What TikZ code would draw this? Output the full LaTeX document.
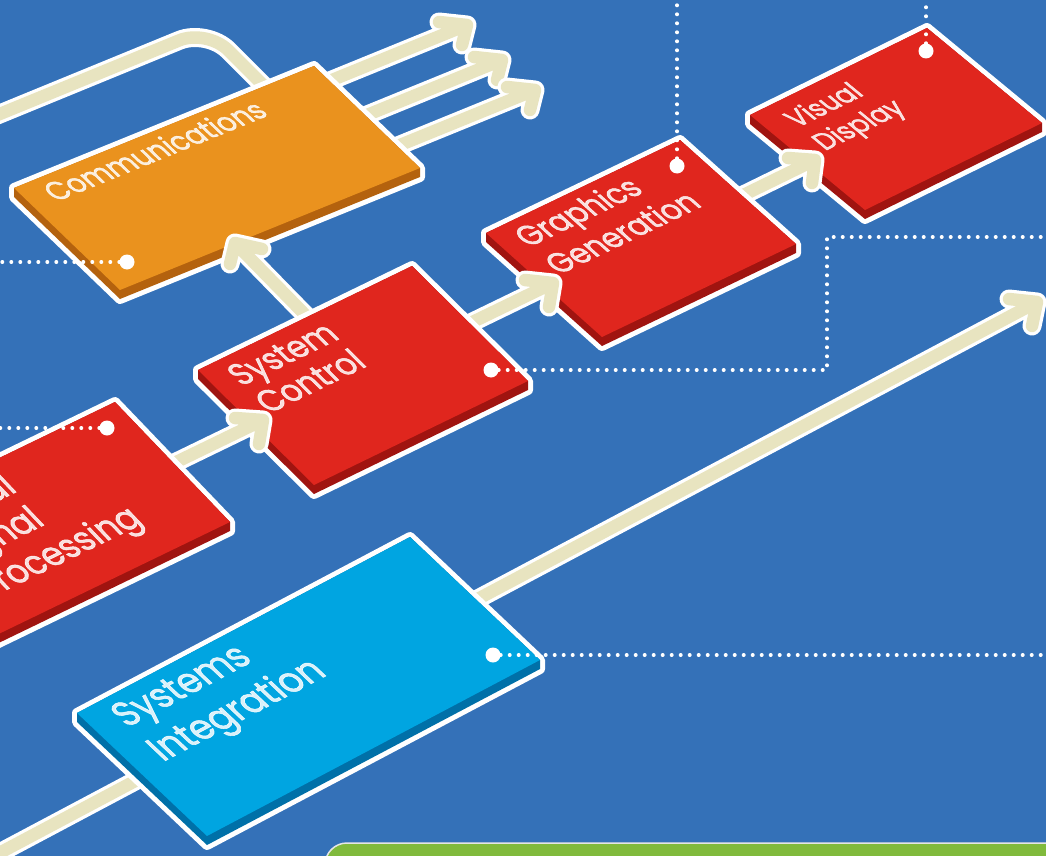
\documentclass[tikz,border=0pt]{standalone}
\usepackage{fontspec}
\setmainfont{Poppins}[FakeBold=1.6]
\usetikzlibrary{calc}
\definecolor{bgblue}{RGB}{52,113,184}
\definecolor{slabred}{RGB}{224,38,30}
\definecolor{slabreddark}{RGB}{160,20,16}
\definecolor{slaborange}{RGB}{234,146,30}
\definecolor{slaborangedark}{RGB}{180,98,14}
\definecolor{slabcyan}{RGB}{0,165,225}
\definecolor{slabcyandark}{RGB}{0,112,168}
\definecolor{tubecream}{RGB}{232,228,192}
\definecolor{boxgreen}{RGB}{128,186,60}

\newcommand\slab[5]{%
  \begin{scope}[shift={#1},x={#2},y={#3}]
    \filldraw[slabhalo] (0,0) -- (1,0) -- (1,1) -- ([yshift=-9pt]1,1) -- ([yshift=-9pt]0,1) -- ([yshift=-9pt]0,0) -- cycle;
    \fill[#5] (0,0) -- (1,0) -- (1,1) -- ([yshift=-9pt]1,1) -- ([yshift=-9pt]0,1) -- ([yshift=-9pt]0,0) -- cycle;
    \fill[#4] (0,0) -- (1,0) -- (1,1) -- (0,1) -- cycle;
  \end{scope}}
\newcommand\tube[4]{%
  \draw[tubeout] (#1) -- (#2) -- ++#3 (#2) -- ++#4;
  \draw[tubein] (#1) -- (#2) -- ++#3 (#2) -- ++#4;}

\begin{document}
\begin{tikzpicture}[x=1pt,y=-1pt,
  slabhalo/.style={draw=white,line width=10pt,line join=round},
  tubeout/.style={white,line width=19pt,line cap=round,line join=round},
  tubein/.style={tubecream,line width=12.5pt,line cap=round,line join=round},
  label/.style={text=white,text opacity=.85,align=left,anchor=base west,inner sep=0pt},
  dots/.style={white,line width=4pt,line cap=round,dash pattern=on 0pt off 9pt},
  pin/.style={circle,fill=white,inner sep=0pt,minimum size=15pt}]
\useasboundingbox (0,0) rectangle (1046,856);
\clip (0,0) rectangle (1046,856);
\fill[bgblue] (0,0) rectangle (1046,856);

\coordinate (link-a) at (-10,118);
\coordinate (link-b) at (207,29);
\coordinate (link-c) at (290,112);
\draw[tubeout,rounded corners=30pt] (link-a) -- (link-b) -- (link-c);
\draw[tubein,rounded corners=30pt] (link-a) -- (link-b) -- (link-c);

\coordinate (comm-o1) at (310,89);
\coordinate (comm-o2) at (345,124);
\coordinate (comm-o3) at (378,154);
\coordinate (out-1) at (467,25);
\coordinate (out-2) at (502,60);
\coordinate (out-3) at (535,90);
\tube{comm-o1}{out-1}{(-28,-3)}{(-5,20)}
\tube{comm-o2}{out-2}{(-28,-3)}{(-5,20)}
\tube{comm-o3}{out-3}{(-28,-3)}{(-5,20)}

\slab{(14,188)}{(300pt,122pt)}{(106pt,-102pt)}{slaborange}{slaborangedark}
\node[label,font=\fontsize{26.5}{32}\selectfont,cm={0.926,0.377,-0.851,0.818,(0,0)}] (comm) at (56,202) {Communications};

\coordinate (ctrl-up) at (320,330);
\coordinate (comm-in) at (235,243);
\tube{ctrl-up}{comm-in}{(27,6)}{(-5,21)}

\slab{(750,115)}{(177pt,87pt)}{(115pt,-95pt)}{slabred}{slabreddark}
\node[label,font=\fontsize{25}{30.5}\selectfont,cm={0.898,0.441,-0.910,0.752,(0,0)}] (vis) at (825,151) {Visual\\Display};

\coordinate (gfx-out) at (725,204);
\coordinate (vis-in) at (815,160);
\tube{gfx-out}{vis-in}{(-27,-2)}{(-3,23)}

\slab{(486,233)}{(194pt,93pt)}{(116pt,-104pt)}{slabred}{slabreddark}
\node[label,font=\fontsize{28.5}{34.7}\selectfont,cm={0.902,0.432,-0.879,0.788,(0,0)}] (gfx) at (559,275) {Graphics\\Generation};

\coordinate (ctrl-out) at (454,331);
\coordinate (gfx-in) at (553,283);
\tube{ctrl-out}{gfx-in}{(-28,-3)}{(-4,24)}

\slab{(198,370)}{(214pt,104pt)}{(116pt,-115pt)}{slabred}{slabreddark}
\node[label,font=\fontsize{30}{33}\selectfont,cm={0.899,0.437,-0.838,0.831,(0,0)}] (ctrl) at (269,414) {System\\Control};

\coordinate (dsp-out) at (164,468);
\coordinate (ctrl-in) at (263,420);
\tube{dsp-out}{ctrl-in}{(-28,-2)}{(-4,24)}

\slab{(-135,523)}{(250pt,121pt)}{(115pt,-120pt)}{slabred}{slabreddark}
\node[label,font=\fontsize{32}{37.3}\selectfont,cm={0.899,0.437,-0.813,0.854,(0,0)}] (dsp) at (-12,599) {Digital\\Signal\\Processing};

\coordinate (integ-a) at (-10,858);
\coordinate (integ-b) at (1037,302);
\tube{integ-a}{integ-b}{(-28,-3)}{(-5,24)}

\slab{(77,713)}{(333pt,176pt)}{(130pt,-123pt)}{slabcyan}{slabcyandark}
\node[label,font=\fontsize{34}{42}\selectfont,cm={0.884,0.467,-0.857,0.811,(0,0)}] (integ) at (163,762) {Systems\\Integration};

\node[pin] (comm-pin) at (127,262) {};
\node[pin] (dsp-pin) at (107,428) {};
\node[pin] (ctrl-pin) at (491,370) {};
\node[pin] (gfx-pin) at (677,166) {};
\node[pin] (vis-pin) at (926,51) {};
\node[pin] (integ-pin) at (493,655) {};
\coordinate (comm-end) at (0,262);
\coordinate (dsp-end) at (0,428);
\coordinate (ctrl-turn) at (827,370);
\coordinate (ctrl-end) at (1046,237);
\coordinate (gfx-end) at (677,0);
\coordinate (vis-end) at (926,0);
\coordinate (integ-end) at (1046,655);
\draw[dots] (comm-pin) -- (comm-end);
\draw[dots] (dsp-pin) -- (dsp-end);
\draw[dots] (ctrl-pin) -- (ctrl-turn) |- (ctrl-end);
\draw[dots] (gfx-pin) -- (gfx-end);
\draw[dots] (vis-pin) -- (vis-end);
\draw[dots] (integ-pin) -- (integ-end);

\draw[fill=boxgreen,draw=white!80!gray,line width=1.5pt,rounded corners=22pt] (325,843) rectangle (1080,900);
\end{tikzpicture}
\end{document}
